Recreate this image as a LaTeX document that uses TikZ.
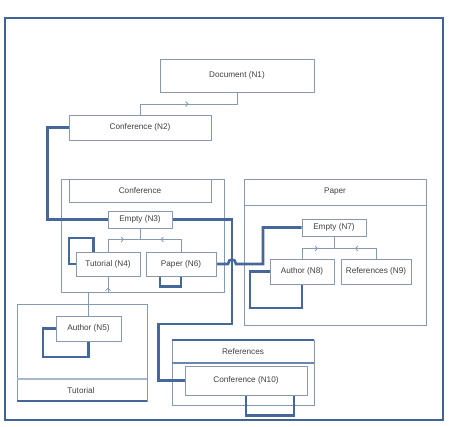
\documentclass[tikz,border=0pt]{standalone}
\usepackage{fontspec}
\setmainfont{Liberation Sans}
\usetikzlibrary{decorations.markings,arrows.meta,shadows}

\definecolor{framecol}{HTML}{3F6394}
\definecolor{heavycol}{HTML}{44689A}
\definecolor{linecol}{HTML}{8598B4}
\definecolor{txtcol}{HTML}{404040}
\definecolor{dividercol}{HTML}{A8B7CB}

\pgfdeclarelayer{groups}
\pgfdeclarelayer{links}
\pgfsetlayers{groups,links,main}

\tikzset{
  lbl/.style={text=txtcol, font=\fontsize{8.2}{9}\selectfont, inner sep=0pt},
  box/.style={lbl, draw=linecol, fill=white, line width=0.9pt},
  group/.style={draw=linecol, line width=0.9pt},
  conn/.style={draw=linecol, line width=0.9pt},
  heavy/.style={draw=heavycol, line width=2.6pt, line join=miter},
  midarrow/.style={decoration={markings,
      mark=at position #1 with {\arrow[linecol, line width=0.8pt]{Straight Barb[length=2.4pt,width=5pt]}}},
      postaction=decorate},
}

\begin{document}
\begin{tikzpicture}[x=1pt,y=-1pt]
\useasboundingbox (0,0) rectangle (449,427);

% ---------------- nodes ----------------
\node[box, minimum width=154, minimum height=33] (N1) at (237,75.5) {Document (N1)};
\node[box, minimum width=142, minimum height=25] (N2) at (140,127.5) {Conference (N2)};
\node[box, minimum width=64, minimum height=17] (N3) at (140,219.5) {Empty (N3)};
\node[box, minimum width=64, minimum height=24] (N4) at (108,264) {Tutorial (N4)};
\node[box, minimum width=70, minimum height=24] (N6) at (181,264) {Paper (N6)};
\node[box, minimum width=65, minimum height=25] (N5) at (88.5,328.5) {Author (N5)};
\node[box, minimum width=64, minimum height=17] (N7) at (334,227.5) {Empty (N7)};
\node[box, minimum width=64, minimum height=25] (N8) at (302,271.5) {Author (N8)};
\node[box, minimum width=70, minimum height=25,
      drop shadow={shadow xshift=1.2pt, shadow yshift=-1.2pt, fill=gray!45, opacity=1}]
      (N9) at (376,271.5) {References (N9)};
\node[box, minimum width=122, minimum height=29] (N10) at (246,380.5) {Conference (N10)};

% ---------------- groups ----------------
\begin{pgfonlayer}{groups}
  % outer frame
  \draw[framecol, line width=2.8pt] (5,18) rectangle (443,420);

  % Conference
  \draw[group] (61,179) rectangle (224,292);
  \node[box, minimum width=142, minimum height=23] (hconf) at (140,190.5) {Conference};

  % Paper
  \draw[group] (244,179) rectangle (426,325);
  \draw[group] (244,205) -- (426,205);
  \node[lbl] (hpaper) at (335,192) {Paper};

  % Tutorial
  \draw[group] (17,304) rectangle (147,401);
  \draw[dividercol, line width=1.8pt] (17,379) -- (147,379);
  \draw[heavycol, line width=1.3pt] (17,401) -- (147,401);
  \node[lbl] (htut) at (81,390.5) {Tutorial};

  % References
  \draw[group] (172,340) rectangle (314,405);
  \draw[heavycol, line width=1.5pt] (172,340) -- (314,340);
  \draw[heavycol!80, line width=1.3pt] (172,363) -- (314,363);
  \node[lbl] (href) at (243,351.5) {References};
\end{pgfonlayer}

% ---------------- connectors ----------------
\begin{pgfonlayer}{links}
  % hierarchy links
  \coordinate (j1) at (N1.south |- 0,104);
  \draw[conn] (N1.south) -- (j1) -| (N2.north);
  \path[midarrow=0.5] (N2.north |- j1) -- (j1);

  \coordinate (j3) at ([yshift=-11pt]N3.south);
  \draw[conn] (N3.south) -- (j3);
  \draw[conn] (N4.north) |- (j3);
  \draw[conn] (N6.north) |- (j3);
  \path[midarrow=0.5] (N4.north |- j3) -- (j3);
  \path[midarrow=0.5] (N6.north |- j3) -- (j3);

  \coordinate (j7) at ([yshift=-12pt]N7.south);
  \draw[conn] (N7.south) -- (j7);
  \draw[conn] (N8.north) |- (j7);
  \draw[conn] (N9.north) |- (j7);
  \path[midarrow=0.5] (N8.north |- j7) -- (j7);
  \path[midarrow=0.5] (N9.north |- j7) -- (j7);

  \coordinate (j4) at ([yshift=-16pt]N4.south);
  \draw[conn] (N4.south) -- (j4) -| (N5.north);
  \path[midarrow=0.3] (j4) -- (N4.south);

  % heavy links
  \draw[heavy] (N2.west) -| ([xshift=-60pt]N3.west) -- (N3.west);
  \draw[heavy] (N3.east) -| (232,324) -| ([xshift=-26pt]N10.west) -- (N10.west);
  \draw[heavy] (N6.east) -- (228,264) .. controls (228,258) and (236,258) .. (236,264)
      -- (263,264) |- (N7.west);

  % self loops
  \draw[heavy] ([xshift=18pt]N4.north west) |- (69,238) |- (N4.west);
  \draw[heavy] ([xshift=-21pt]N6.south) -- ++(0,10) -| (N6.south);
  \draw[heavy] (N5.west) -| (43,357) -| (N5.south);
  \draw[heavy] (N8.west) -| (250,308) -| (N8.south);
  \draw[heavy] (N10.south) -- ++(0,20) -| ([xshift=48pt]N10.south);
\end{pgfonlayer}
\end{tikzpicture}
\end{document}
